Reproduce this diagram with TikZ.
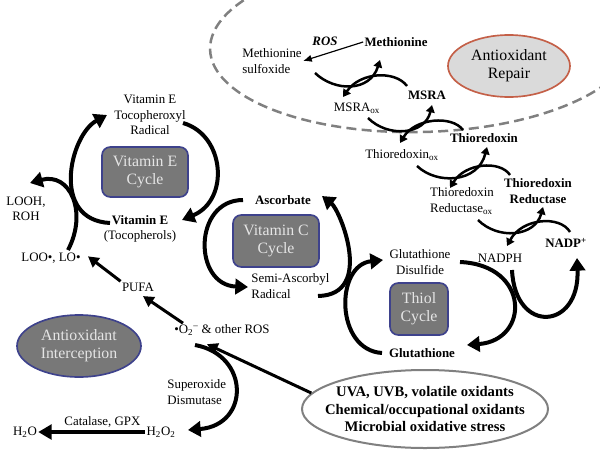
\documentclass[tikz,border=0pt]{standalone}
\usepackage{fontspec}
\setmainfont{Liberation Serif}
\usetikzlibrary{arrows.meta,shapes.geometric}
\definecolor{boxgray}{RGB}{120,120,120}
\definecolor{boxblue}{RGB}{62,66,140}
\definecolor{dashgray}{RGB}{128,128,128}
\definecolor{repairfill}{RGB}{218,218,218}
\definecolor{repairline}{RGB}{196,96,72}
\tikzset{
  lbl/.style={font=\fontsize{11}{13}\selectfont, inner sep=1pt, align=center},
  blbl/.style={lbl, font=\fontsize{11}{13}\selectfont\bfseries},
  cyclebox/.style={draw=boxblue, line width=0.5mm, fill=boxgray, rounded corners=2.5mm,
    text=white!90!black, font=\fontsize{13.5}{15.5}\selectfont, align=center,
    inner sep=0pt, minimum width=25.8mm, minimum height=15.6mm},
  zone/.style={ellipse, line width=0.5mm, inner sep=0pt, align=center,
    font=\fontsize{13.5}{15.5}\selectfont},
  bigarc/.style={line width=1.2mm, -{Triangle[width=4.6mm,length=3.8mm]}},
  redox/.style={line width=0.75mm, -{Triangle[width=2.6mm,length=2.2mm]}},
  flow/.style={line width=0.9mm, -{Triangle[width=3.4mm,length=3.2mm]}},
  thinarrow/.style={line width=0.35mm, -{Latex[length=2.6mm,width=2.2mm]}}
}
\begin{document}
\begin{tikzpicture}[x=0.3mm,y=-0.3mm]
\useasboundingbox (0,0) rectangle (600,466);
% repair zone
\begin{scope}
\clip (0,0) rectangle (600,466);
\draw[dashgray, line width=0.75mm, dash pattern=on 3mm off 1.6mm,
  rotate around={1.5:(422,44)}] (422,44) ellipse [x radius=63.6mm, y radius=26.4mm];
\end{scope}
\node[zone, draw=repairline, fill=repairfill, minimum width=36.6mm, minimum height=18.6mm]
  (repair) at (509,66) {Antioxidant\\Repair};

% methionine / MSRA / thioredoxin chain
\node[blbl] (met) at (396,42) {Methionine};
\node[lbl, font=\fontsize{11}{13}\selectfont\bfseries\itshape] (ros) at (325,41) {ROS};
\node[lbl, align=left] (metso) at (272,61) {Methionine\\sulfoxide};
\node[blbl] (msra) at (427,95) {MSRA};
\node[lbl] (msraox) at (357,108) {MSRA\textsubscript{ox}};
\node[blbl] (trx) at (484,138) {Thioredoxin};
\node[lbl] (trxox) at (402,155) {Thioredoxin\textsubscript{ox}};
\node[blbl] (tr) at (538,191) {Thioredoxin\\Reductase};
\node[lbl, align=left] (trox) at (462,201) {Thioredoxin\\Reductase\textsubscript{ox}};
\node[blbl] (nadp) at (566,243) {NADP\textsuperscript{+}};
\node[lbl] (nadph) at (500,258) {NADPH};

\coordinate (metso-r) at (315,73);   \coordinate (met-b) at (380,60);
\coordinate (msra-b) at (407,86);    \coordinate (msraox-t) at (343,97);
\coordinate (msraox-r) at (368,118); \coordinate (msra-bb) at (432,105);
\coordinate (trx-b) at (463,130);    \coordinate (trxox-t) at (400,143);
\coordinate (trxox-r) at (417,166);  \coordinate (trx-bb) at (487,147);
\coordinate (tr-b) at (510,175);     \coordinate (trox-t) at (450,188);
\coordinate (trox-r) at (478,220);   \coordinate (tr-bb) at (543,207);
\coordinate (nadp-t) at (570,232);   \coordinate (nadph-t) at (507,246);

\draw[thinarrow] (met.west) -- (metso.east);
\draw[redox] (metso-r) .. controls (335,92) and (370,92) .. (met-b);
\draw[redox] (msra-b) .. controls (395,70) and (360,72) .. (msraox-t);
\draw[redox] (msraox-r) .. controls (388,138) and (425,135) .. (msra-bb);
\draw[redox] (trx-b) .. controls (452,115) and (415,118) .. (trxox-t);
\draw[redox] (trxox-r) .. controls (437,185) and (478,183) .. (trx-bb);
\draw[redox] (tr-b) .. controls (500,160) and (465,163) .. (trox-t);
\draw[redox] (trox-r) .. controls (498,240) and (535,237) .. (tr-bb);
\draw[redox] (nadp-t) .. controls (560,215) and (522,218) .. (nadph-t);

% thiol cycle
\node[lbl] (gssg) at (420,262) {Glutathione\\Disulfide};
\node[cyclebox, minimum width=17.4mm] (thiol) at (419,309) {Thiol\\Cycle};
\node[blbl] (gsh) at (422,353) {Glutathione};
\coordinate (gsh-l) at (382,353);   \coordinate (gssg-l) at (383,260);
\coordinate (gssg-r) at (460,262);  \coordinate (gsh-r) at (467,345);
\coordinate (nadph-b) at (512,270); \coordinate (nadp-b) at (577,258);
\draw[bigarc] (gsh-l) .. controls (335,350) and (335,265) .. (gssg-l);
\draw[bigarc] (gssg-r) .. controls (530,265) and (530,340) .. (gsh-r);
\draw[bigarc] (nadph-b) .. controls (515,335) and (580,330) .. (nadp-b);

% vitamin C cycle
\node[blbl] (asc) at (283,200) {Ascorbate};
\node[cyclebox] (vitc) at (276,241) {Vitamin C\\Cycle};
\node[lbl, anchor=west, align=left] (semi) at (250,286) {Semi-Ascorbyl\\Radical};
\coordinate (asc-l) at (243,200);  \coordinate (semi-l) at (248,287);
\coordinate (semi-r) at (318,296); \coordinate (asc-r) at (322,196);
\draw[bigarc] (asc-l) .. controls (193,200) and (193,285) .. (semi-l);
\draw[bigarc] (semi-r) .. controls (375,295) and (340,210) .. (asc-r);

% vitamin E cycle
\node[lbl] (toco) at (150,115) {Vitamin E\\Tocopheroxyl\\Radical};
\node[cyclebox, minimum height=15mm] (vite) at (145,172) {Vitamin E\\Cycle};
\node[lbl] (vitE) at (140,229) {\textbf{Vitamin E}\\(Tocopherols)};
\node[lbl] (looh) at (26,209) {LOOH,\\ROH};
\node[lbl] (loo) at (51,258) {LOO\textbullet, LO\textbullet};
\coordinate (vitE-l) at (110,223); \coordinate (toco-l) at (107,115);
\coordinate (toco-r) at (183,123); \coordinate (vitE-r) at (182,220);
\coordinate (loo-t) at (68,250);   \coordinate (looh-t) at (30,183);
\draw[bigarc] (vitE-l) .. controls (50,220) and (70,135) .. (toco-l);
\draw[bigarc] (toco-r) .. controls (225,135) and (230,200) .. (vitE-r);
\draw[bigarc] (loo-t) .. controls (88,212) and (70,172) .. (looh-t);

% interception
\node[lbl] (pufa) at (138,287) {PUFA};
\node[lbl] (o2) at (222,330) {\textbullet O\textsubscript{2}\textsuperscript{--}\ \& other ROS};
\node[zone, draw=boxblue, fill=boxgray, text=white!90!black, minimum width=37.2mm,
  minimum height=18.6mm] (interc) at (79,346) {Antioxidant\\Interception};
\node[lbl, anchor=west, align=left] (sod) at (166,392) {Superoxide\\Dismutase};
\node[lbl] (h2o) at (25,432) {H\textsubscript{2}O};
\node[lbl] (h2o2) at (161,432) {H\textsubscript{2}O\textsubscript{2}};
\coordinate (o2-b) at (195,345); \coordinate (h2o2-r) at (188,430);
\draw[flow] ([xshift=3mm]o2.north west) -- ([xshift=1.5mm,yshift=-1mm]pufa.south);
\draw[flow] (pufa.north west) -- ([xshift=1.8mm,yshift=0.5mm]loo.east);
\draw[bigarc] (o2-b) .. controls (250,355) and (250,425) .. (h2o2-r);
\draw[line width=1.2mm, -{Triangle[width=4.4mm,length=4mm]}] (h2o2.west) --
  node[lbl, above=0.5mm, pos=0.4] (cat) {Catalase, GPX} (h2o.east);

% sources
\node[zone, draw=dashgray, fill=white, line width=0.6mm, minimum width=73.8mm,
  minimum height=23.4mm] (uva) at (425,409) {};
\node[lbl, font=\fontsize{12.5}{15.3}\selectfont\bfseries] (uvatext) at (uva.center)
  {UVA, UVB, volatile oxidants\\Chemical/occupational oxidants\\Microbial oxidative stress};
\draw[flow] (uva.172) -- ([xshift=-4.5mm,yshift=-2.2mm]o2.south);
\end{tikzpicture}
\end{document}
